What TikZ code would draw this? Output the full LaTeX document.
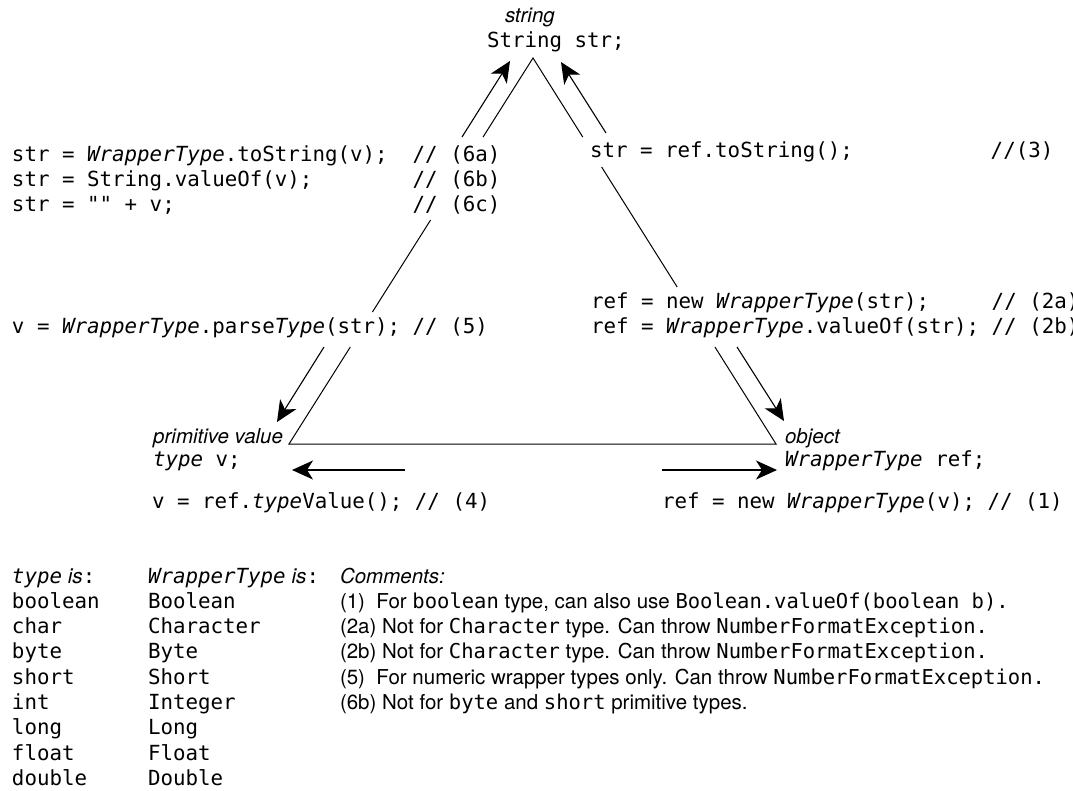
\documentclass[tikz,border=0pt]{standalone}
\usepackage{fontspec}
\setmainfont{TeX Gyre Heros}
\setsansfont{TeX Gyre Heros}
\setmonofont{DejaVu Sans Mono}
\usetikzlibrary{arrows.meta,calc}
\newcommand{\msp}[1]{\hspace*{#1\fontdimen2\font}}
\newcommand{\wt}{\textit{WrapperType}}
\begin{document}
\begin{tikzpicture}[x=1pt,y=-1pt,
  txt/.style={inner sep=0pt, outer sep=0pt, anchor=base west, font=\fontsize{20.5}{24}\selectfont},
  lab/.style={txt, font=\fontsize{20.5}{24}\selectfont\itshape},
  code/.style={txt, font=\fontsize{20.8}{24}\selectfont\ttfamily},
  side/.style={line width=1pt},
  arr/.style={line width=1.1pt, -{Stealth[length=21pt,width=19pt,inset=6pt]}},
  harr/.style={arr, line width=1.3pt}
]
\useasboundingbox (0,0) rectangle (1073,791);

% vertex labels
\node[lab] (strlab) at (505,23) {string};
\node[code] (strdecl) at (487,48) {String str;};
\node[lab, anchor=base east] (primlab) at (283,443) {primitive value};
\node[code] (primdecl) at (153,466) {\textit{type} v;};
\node[lab] (objlab) at (785,443) {object};
\node[code] (objdecl) at (785,466) {\wt{} ref;};

% conversion code
\node[code] (c6a) at (12,162) {str = \wt.toString(v);\msp{2}// (6a)};
\node[code] (c6b) at (12,187) {str = String.valueOf(v);\msp{8}// (6b)};
\node[code] (c6c) at (12,212) {str = "" + v;\msp{19}// (6c)};
\node[code] (c3) at (590,158) {str = ref.toString();\msp{11}//(3)};
\node[code] (c2a) at (591,309) {ref = new \wt(str);\msp{5}// (2a)};
\node[code] (c2b) at (591,334) {ref = \wt.valueOf(str); // (2b)};
\node[code] (c5) at (12,334) {v = \wt.parse\textit{Type}(str); // (5)};
\node[code] (c4) at (152,508) {v = ref.\textit{type}Value(); // (4)};
\node[code] (c1) at (662,508) {ref = new \wt(v); // (1)};

% triangle
\coordinate (A) at (533,58);
\coordinate (L) at (289,444);
\coordinate (R) at (776,444);
\draw[side] ($(A)!0.2047!(L)$) -- (A) -- ($(A)!0.2047!(R)$);
\draw[side] ($(A)!0.4197!(L)$) -- ($(A)!0.658!(L)$);
\draw[side] ($(A)!0.2824!(R)$) -- ($(A)!0.5933!(R)$);
\draw[side] ($(A)!0.7487!(L)$) -- (L) -- (R) -- ($(A)!0.7487!(R)$);

% arrows
\coordinate (a6t) at (462,137); \coordinate (a6h) at (510,61);
\coordinate (a3t) at (606,133); \coordinate (a3h) at (561,62);
\coordinate (a5t) at (324,347); \coordinate (a5h) at (277,422);
\coordinate (a2t) at (737,347); \coordinate (a2h) at (784,421);
\coordinate (a4t) at (405,470); \coordinate (a4h) at (292,470);
\coordinate (a1t) at (662,470); \coordinate (a1h) at (777,470);
\draw[arr] (a6t) -- (a6h);
\draw[arr] (a3t) -- (a3h);
\draw[arr] (a5t) -- (a5h);
\draw[arr] (a2t) -- (a2h);
\draw[harr] (a4t) -- (a4h);
\draw[harr] (a1t) -- (a1h);

% table
\node[code] (hty) at (12,583) {\textit{type}{\sffamily\itshape\ is}:};
\node[code] (hwr) at (148,583) {\wt{\sffamily\itshape\ is}:};
\foreach \t/\w [count=\i] in {boolean/Boolean, char/Character, byte/Byte, short/Short, int/Integer, long/Long, float/Float, double/Double}{
  \node[code] (ty\i) at (12,583+\i*25.3) {\t};
  \node[code] (wr\i) at (148,583+\i*25.3) {\w};
}
\node[lab] (cm) at (340,583) {Comments:};
\node[txt] (cm1) at (340,608.3) {(1)\ \ For \texttt{boolean} type, can also use \texttt{Boolean.valueOf(boolean b).}};
\node[txt] (cm2) at (340,633.6) {(2a) Not for \texttt{Character} type. Can throw \texttt{NumberFormatException.}};
\node[txt] (cm3) at (340,658.9) {(2b) Not for \texttt{Character} type. Can throw \texttt{NumberFormatException.}};
\node[txt] (cm4) at (340,684.2) {(5)\ \ For numeric wrapper types only. Can throw \texttt{NumberFormatException.}};
\node[txt] (cm5) at (340,709.5) {(6b) Not for \texttt{byte} and \texttt{short} primitive types.};
\end{tikzpicture}
\end{document}
